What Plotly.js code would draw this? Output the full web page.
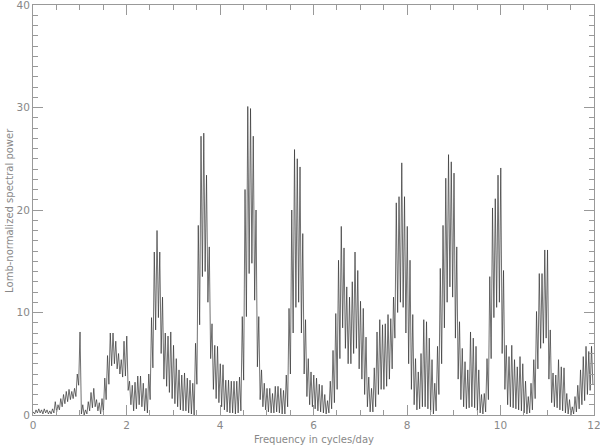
<!DOCTYPE html>
<html>
<head>
<meta charset="utf-8">
<script src="https://cdn.plot.ly/plotly-3.0.1.min.js"></script>
<style>
html,body{margin:0;padding:0;background:#fff;}
#plot{width:600px;height:446px;}
</style>
</head>
<body>
<div id="plot"></div>
<script>
// periodogram grid: one sidelobe every 1/17 cycles/day
var fStep = 1/17;
var fStart = 0.1/17;

// height of each sidelobe peak (Lomb power)
var peaks = [
0.3,0.5,0.6,0.5,0.6,0.5,0.4,0.6,1.3,1.0,1.6,2.0,2.3,2.5,2.3,2.6,4.0,
8.1,1.0,0.5,1.3,2.2,2.6,1.5,1.2,1.6,3.6,5.8,8.0,8.0,7.2,6.0,5.4,7.2,
7.7,3.3,2.9,3.2,3.8,3.8,3.1,2.6,4.0,9.5,15.9,18.0,15.9,11.5,8.0,7.7,8.1,
6.8,5.5,4.4,3.9,4.1,3.6,3.4,3.1,7.0,18.5,27.2,27.5,23.4,16.4,8.9,6.8,6.7,
5.0,4.9,3.4,3.4,3.3,3.3,3.3,3.7,9.6,22.0,30.1,29.9,27.2,20.0,9.6,4.4,3.1,
2.6,2.6,2.1,2.8,2.8,2.6,2.4,3.9,10.4,20.0,25.9,25.0,24.2,17.7,9.3,5.5,4.2,
3.9,3.6,3.0,2.9,2.0,1.4,3.3,6.3,9.9,15.1,18.4,16.3,12.5,11.5,13.0,15.9,14.1,
11.1,10.4,7.6,3.7,2.6,4.6,8.1,9.3,8.8,8.9,9.8,9.4,11.5,20.7,21.3,24.6,21.3,
18.4,15.1,9.8,5.5,4.2,6.0,9.3,9.1,7.5,5.4,3.1,6.7,14.3,18.5,23.1,25.4,24.7,
23.6,16.4,9.1,6.5,5.2,4.4,8.1,7.5,6.7,4.4,2.0,2.1,5.5,13.5,20.2,21.1,23.4,
24.1,14.1,6.8,5.7,6.8,5.4,4.7,5.7,5.0,3.3,1.8,3.1,5.4,10.1,13.8,13.8,16.1,
16.1,8.3,4.1,3.9,5.4,4.7,4.6,2.1,1.5,0.8,1.8,2.9,4.4,5.7,6.7,6.2,6.7
];

// minimum between peak i and peak i+1
var troughs = [
0.1,0.2,0.2,0.1,0.2,0.1,0.1,0.2,0.3,0.5,0.8,1.1,1.3,1.5,1.6,1.8,2.9,
0.1,0.0,0.1,0.4,0.7,0.8,0.4,0.1,0.3,1.5,3.0,4.8,5.0,4.5,4.0,3.7,3.8,
2.4,1.0,0.4,0.6,1.0,0.8,0.4,0.2,1.5,4.6,8.3,9.5,6.0,3.5,2.8,2.2,1.6,
1.1,0.8,0.5,0.4,0.4,0.2,0.1,0.0,3.0,8.8,13.5,14.0,11.0,5.5,2.5,1.6,1.2,
0.8,0.5,0.3,0.2,0.2,0.1,0.2,0.4,3.4,9.6,13.8,14.8,11.2,4.7,1.5,0.8,0.5,
0.3,0.2,0.2,0.3,0.2,0.1,0.1,0.8,4.0,8.0,10.5,11.0,8.0,4.0,1.8,1.0,0.8,
0.6,0.4,0.3,0.2,0.1,0.2,0.6,1.2,2.5,5.5,8.5,6.5,5.0,5.0,6.0,6.5,4.5,
3.5,2.0,0.8,0.3,0.3,0.8,2.0,2.5,2.5,2.8,3.5,4.5,7.5,10.0,11.0,10.5,8.0,
5.0,2.5,1.0,0.5,0.6,0.8,0.8,0.6,0.3,0.1,0.4,2.0,5.0,8.5,11.0,12.5,11.5,
7.5,3.5,1.5,0.8,0.6,0.7,0.8,0.7,0.4,0.2,0.1,0.3,1.5,5.5,9.5,10.5,11.0,
6.0,2.5,1.0,0.8,0.7,0.6,0.5,0.4,0.2,0.1,0.2,0.5,1.6,4.5,6.5,7.0,7.5,
3.5,1.2,0.8,0.7,0.5,0.4,0.2,0.1,0.0,0.1,0.3,0.6,1.0,1.4,2.0,2.4,3.0
];

var xTicks = [0,2,4,6,8,10,12];
var yTicks = [0,10,20,30,40];

function buildLine(){
  var fx = [0];
  var py = [0.2];
  for (var i=0;i<peaks.length;i++) {
      fx.push(fStart + i*fStep);
      py.push(peaks[i]);
      fx.push(fStart + (i+0.5)*fStep);
      py.push(troughs[i]);
  }
  return {x: fx, y: py};
}

function axisStyle(ticks, minorStep, range){
  return {
    range: range,
    tickvals: ticks,
    ticks: 'inside',
    ticklen: 10,
    tickwidth: 1,
    tickcolor: '#999',
    minor: {dtick: minorStep, ticks: 'inside', ticklen: 5, tickwidth: 1, tickcolor: '#999'},
    showline: true,
    linecolor: '#999',
    linewidth: 1,
    mirror: 'ticks',
    showgrid: false,
    zeroline: false,
    ticklabeloverflow: 'allow',
    tickfont: {family: 'DejaVu Sans', size: 10.5, color: '#888'},
    fixedrange: true
  };
}

function draw(){
  var line = buildLine();
  var trace = {
    x: line.x,
    y: line.y,
    type: 'scatter',
    mode: 'lines',
    line: {color: '#333', width: 0.7},
    hoverinfo: 'skip'
  };
  var layout = {
    width: 600,
    height: 446,
    margin: {l: 33, r: 6, t: 5, b: 31},
    paper_bgcolor: '#fff',
    plot_bgcolor: '#fff',
    showlegend: false,
    xaxis: axisStyle(xTicks, 0.5, [0,12]),
    yaxis: axisStyle(yTicks, 1, [0,40]),
    annotations: [
      {text: 'Frequency in cycles/day', xref: 'paper', yref: 'paper', x: 0.5, y: -0.06,
       xanchor: 'center', yanchor: 'middle', showarrow: false,
       font: {family: 'DejaVu Sans', size: 10, color: '#888'}},
      {text: 'Lomb-normalized spectral power', xref: 'paper', yref: 'paper', x: -0.043, y: 0.5,
       xanchor: 'center', yanchor: 'middle', textangle: -90, showarrow: false,
       font: {family: 'DejaVu Sans', size: 10, color: '#888'}}
    ]
  };
  Plotly.newPlot(document.getElementById('plot'), [trace], layout, {displayModeBar: false, staticPlot: true});
}

draw();
</script>
</body>
</html>
